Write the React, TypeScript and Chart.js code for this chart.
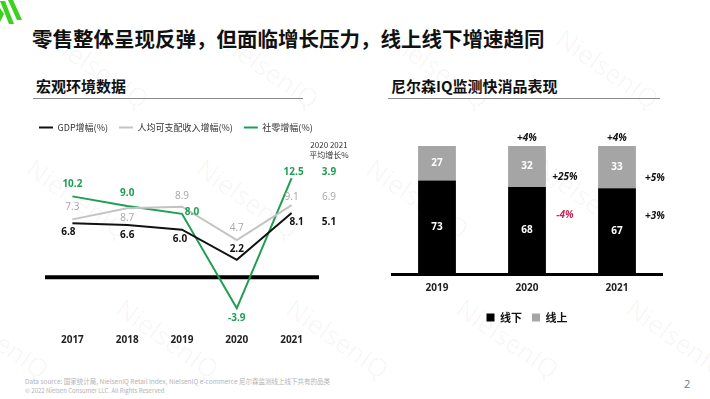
import React, { useEffect, useRef } from 'react';
import { Chart, registerables } from 'chart.js';

Chart.register(...registerables);

// ---------- data: left chart (宏观环境数据) ----------
const lineYears = ['2017', '2018', '2019', '2020', '2021'];
const gdpGrowth = [6.8, 6.6, 6.0, 2.2, 8.1];
const incomeGrowth = [7.3, 8.7, 8.9, 4.7, 9.1];
const retailGrowth = [10.2, 9.0, 8.0, -3.9, 12.5];
const avgGrowth = [5.1, 6.9, 3.9]; // GDP, income, retail (2020-2021 average)
const avgHeader = ['2020 2021', '平均增长%'];
const lineNames = ['GDP增幅(%)', '人均可支配收入增幅(%)', '社零增幅(%)'];

// ---------- data: right chart (尼尔森IQ监测快消品表现) ----------
const barYears = ['2019', '2020', '2021'];
const offlineShare = [73, 68, 67];
const onlineShare = [27, 32, 33];
const totalGrowth = ['', '+4%', '+4%'];
const onlineGrowth = ['', '+25%', '+5%'];
const offlineGrowth = ['', '-4%', '+3%'];
const barNames = ['线下', '线上'];

// ---------- styles / label placement ----------
const GREEN = '#1f9e52';
const GRAY_LINE = '#c3c3c3';
const GRAY_TEXT = '#a6a6a6';
const BAR_GRAY = '#a5a5a5';
const RED = '#c8285a';
const LATIN = "'Open Sans', 'Noto Sans CJK SC', sans-serif";
const CJK = "'Noto Sans CJK SC', 'Noto Sans', sans-serif";

const gdpLabelOffset = [[-4, 9], [0, 10], [-2, 9], [0, -11], [5, 9]];
const incomeLabelOffset = [[0, -12], [0, 10], [0, -11], [0, -12], [0, -8]];
const retailLabelOffset = [[0, -12], [0, -13], [10, -2], [0, 10], [2, -6]];

const lineLabelPlugin = {
  id: 'lineLabels',
  beforeDatasetsDraw(chart: any) {
    const { ctx, chartArea, scales } = chart;
    const y0 = scales.y.getPixelForValue(0);
    ctx.save();
    ctx.strokeStyle = '#000';
    ctx.lineWidth = 4;
    ctx.beginPath();
    ctx.moveTo(chartArea.left, y0);
    ctx.lineTo(chartArea.right, y0);
    ctx.stroke();
    ctx.restore();
  },
  afterDatasetsDraw(chart: any) {
    const { ctx, chartArea } = chart;
    ctx.save();
    ctx.textAlign = 'center';
    ctx.textBaseline = 'middle';
    const specs = [
      { data: gdpGrowth, off: gdpLabelOffset, color: '#111', bold: true },
      { data: incomeGrowth, off: incomeLabelOffset, color: GRAY_TEXT, bold: false },
      { data: retailGrowth, off: retailLabelOffset, color: GREEN, bold: true },
    ];
    const avgX = chartArea.right + 10;
    let topY = Infinity;
    specs.forEach((s, i) => {
      const meta = chart.getDatasetMeta(i);
      ctx.fillStyle = s.color;
      ctx.font = `${s.bold ? 'bold ' : ''}10px ${LATIN}`;
      meta.data.forEach((p: any, j: number) => {
        ctx.fillText(s.data[j].toFixed(1), p.x + s.off[j][0], p.y + s.off[j][1]);
      });
      const last = meta.data[meta.data.length - 1];
      const ay = last.y + s.off[s.off.length - 1][1];
      topY = Math.min(topY, ay);
      ctx.fillText(avgGrowth[i].toFixed(1), avgX, ay);
    });
    ctx.fillStyle = '#333';
    ctx.font = `8px ${CJK}`;
    ctx.fillText(avgHeader[0], avgX, topY - 27);
    ctx.fillText(avgHeader[1], avgX, topY - 17);
    ctx.restore();
  },
};

const barLabelPlugin = {
  id: 'barLabels',
  afterDatasetsDraw(chart: any) {
    const { ctx } = chart;
    const off = chart.getDatasetMeta(0);
    const on = chart.getDatasetMeta(1);
    ctx.save();
    ctx.textAlign = 'center';
    ctx.textBaseline = 'middle';
    ctx.fillStyle = '#fff';
    ctx.font = `bold 10px ${LATIN}`;
    off.data.forEach((b: any, j: number) => {
      ctx.fillText(String(offlineShare[j]), b.x, (b.y + b.base) / 2);
    });
    on.data.forEach((b: any, j: number) => {
      ctx.fillText(String(onlineShare[j]), b.x, (b.y + b.base) / 2);
    });
    ctx.font = `italic bold 10px ${LATIN}`;
    on.data.forEach((b: any, j: number) => {
      const right = b.x + b.width / 2 + 19;
      ctx.fillStyle = '#111';
      if (totalGrowth[j]) ctx.fillText(totalGrowth[j], b.x, b.y - 8);
      if (onlineGrowth[j]) ctx.fillText(onlineGrowth[j], right, b.base - 10);
      if (offlineGrowth[j]) {
        ctx.fillStyle = offlineGrowth[j].startsWith('-') ? RED : '#111';
        ctx.fillText(offlineGrowth[j], right, b.base + 28);
      }
    });
    ctx.restore();
  },
};

const hiddenAxis = (width: number, position: string) => ({
  display: true,
  position,
  grid: { display: false, drawTicks: false },
  border: { display: false },
  ticks: { display: false },
  afterFit: (s: any) => { s.width = width; },
});

function LineChart() {
  const ref = useRef<HTMLCanvasElement>(null);
  useEffect(() => {
    const chart = new Chart(ref.current!, {
      type: 'line',
      data: {
        labels: lineYears,
        datasets: [
          { label: lineNames[0], data: gdpGrowth, borderColor: '#111', backgroundColor: '#111', borderWidth: 2 },
          { label: lineNames[1], data: incomeGrowth, borderColor: GRAY_LINE, backgroundColor: GRAY_LINE, borderWidth: 2 },
          { label: lineNames[2], data: retailGrowth, borderColor: GREEN, backgroundColor: GREEN, borderWidth: 2 },
        ],
      },
      options: {
        animation: false,
        responsive: false,
        maintainAspectRatio: false,
        layout: { padding: { left: 8, right: 0, top: 0, bottom: 7 } },
        elements: { point: { radius: 0 }, line: { tension: 0 } },
        plugins: {
          legend: {
            display: true,
            position: 'top',
            align: 'start',
            labels: {
              usePointStyle: true,
              pointStyle: 'line',
              pointStyleWidth: 14,
              padding: 11,
              color: '#333',
              font: { size: 9, family: CJK },
            },
          },
          tooltip: { enabled: false },
        },
        scales: {
          x: {
            offset: true,
            grid: { display: false, drawTicks: false },
            border: { display: false },
            ticks: { color: '#222', padding: 8, font: { size: 10, weight: 'bold', family: LATIN } },
          },
          y: { ...hiddenAxis(17, 'left'), min: -6.13, max: 17.05 },
          yr: { ...hiddenAxis(46, 'right'), min: 0, max: 1 },
        },
      },
      plugins: [lineLabelPlugin],
    } as any);
    return () => chart.destroy();
  }, []);
  return <canvas ref={ref} width={345} height={249} style={{ position: 'absolute', left: 20, top: 112, width: 345, height: 249 }} />;
}

function BarChart() {
  const ref = useRef<HTMLCanvasElement>(null);
  useEffect(() => {
    const chart = new Chart(ref.current!, {
      type: 'bar',
      data: {
        labels: barYears,
        datasets: [
          { label: barNames[0], data: offlineShare, backgroundColor: '#000' },
          { label: barNames[1], data: onlineShare, backgroundColor: BAR_GRAY },
        ],
      },
      options: {
        animation: false,
        responsive: false,
        maintainAspectRatio: false,
        layout: { padding: { left: 22, right: 38, top: 28, bottom: 0 } },
        datasets: { bar: { barPercentage: 0.42, categoryPercentage: 1 } },
        plugins: {
          legend: {
            display: true,
            position: 'bottom',
            labels: {
              boxWidth: 8,
              boxHeight: 8,
              padding: 10,
              color: '#111',
              font: { size: 11, weight: 'bold', family: CJK },
            },
          },
          tooltip: { enabled: false },
        },
        scales: {
          x: {
            stacked: true,
            grid: { display: false, drawTicks: false },
            border: { display: true, color: '#000', width: 3 },
            ticks: { color: '#222', padding: 8, font: { size: 10, weight: 'bold', family: LATIN } },
          },
          y: { stacked: true, display: false, min: 0, max: 100 },
        },
      },
      plugins: [barLabelPlugin],
    } as any);
    return () => chart.destroy();
  }, []);
  return <canvas ref={ref} width={330} height={215} style={{ position: 'absolute', left: 370, top: 118, width: 330, height: 215 }} />;
}

const watermarks = [
  [40, 150], [210, 150], [380, 150], [550, 150],
  [-40, 290], [130, 290], [300, 290], [470, 290], [640, 290],
  [60, 20], [230, 20], [400, 20], [570, 20],
];

export default function App() {
  return (
    <div style={{ position: 'absolute', left: 0, top: 0, width: 710, height: 399, background: '#fff', overflow: 'hidden', fontFamily: CJK }}>
      {watermarks.map(([x, y], i) => (
        <div key={i} style={{ position: 'absolute', left: x, top: y, fontSize: 26, color: 'rgba(0,0,0,0.04)', transform: 'rotate(35deg)', transformOrigin: 'left top', fontFamily: LATIN, whiteSpace: 'nowrap' }}>NielsenIQ</div>
      ))}
      <svg width={26} height={28} style={{ position: 'absolute', left: 0, top: 0 }}>
        <polygon points="0,1 5,1 14,24 9,24" fill="#3ad11f" />
        <polygon points="8,0 13,0 22,20 17,20" fill="#3ad11f" />
        <polygon points="0,8 4,14 0,22" fill="#3ad11f" />
      </svg>
      <div style={{ position: 'absolute', left: 32, top: 26, fontSize: 20.5, fontWeight: 'bold', color: '#111', whiteSpace: 'nowrap', lineHeight: '24px' }}>
        零售整体呈现反弹，但面临增长压力，线上线下增速趋同
      </div>
      <div style={{ position: 'absolute', left: 36, top: 77, fontSize: 15, fontWeight: 'bold', color: '#111', lineHeight: '18px' }}>宏观环境数据</div>
      <div style={{ position: 'absolute', left: 33, top: 98, width: 270, height: 1, background: '#8c8c8c' }} />
      <div style={{ position: 'absolute', left: 391, top: 77, fontSize: 15, fontWeight: 'bold', color: '#111', lineHeight: '18px', whiteSpace: 'nowrap' }}>尼尔森IQ监测快消品表现</div>
      <div style={{ position: 'absolute', left: 388, top: 98, width: 272, height: 1, background: '#8c8c8c' }} />
      <LineChart />
      <BarChart />
      <div style={{ position: 'absolute', left: 25, top: 377, fontSize: 6.5, color: '#b3b3b3', whiteSpace: 'nowrap', lineHeight: '8px' }}>
        Data source: 国家统计局, NielsenIQ Retail Index, NielsenIQ e-commerce 尼尔森监测线上线下共有的品类
      </div>
      <div style={{ position: 'absolute', left: 25, top: 387, fontSize: 6, color: '#b3b3b3', whiteSpace: 'nowrap', lineHeight: '8px' }}>
        © 2022 Nielsen Consumer LLC. All Rights Reserved
      </div>
      <div style={{ position: 'absolute', left: 684, top: 376, fontSize: 11, color: '#777', fontFamily: LATIN }}>2</div>
    </div>
  );
}
